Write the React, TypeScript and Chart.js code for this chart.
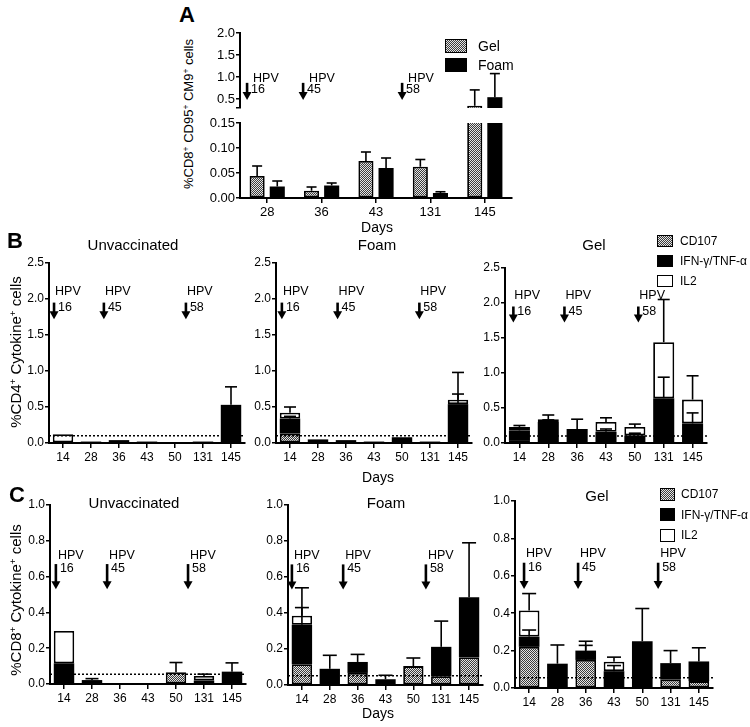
import React, { useEffect, useRef } from 'react';
import { Chart, registerables } from 'chart.js';
Chart.register(...registerables);

const SANS = "'Liberation Sans', Arial, Helvetica, sans-serif";
const NARROW = "'Liberation Sans Narrow', 'Arial Narrow', 'Liberation Sans', Arial, sans-serif";

// ---------- data ----------
const daysA = ['28', '36', '43', '131', '145'];
const gelA = [0.044, 0.0145, 0.074, 0.0625, 0.35];
const gelAErr = [0.064, 0.022, 0.092, 0.077, 0.71];
const foamA = [0.023, 0.025, 0.06, 0.01, 0.545];
const foamAErr = [0.034, 0.03, 0.08, 0.0125, 1.08];
const ticksAUpper = [0.3, 0.5, 1.0, 1.5, 2.0];
const tickLabelsAUpper = ['', '0.5', '1.0', '1.5', '2.0'];
const ticksALower = [0, 0.05, 0.1, 0.15];
const tickLabelsALower = ['0.00', '0.05', '0.10', '0.15'];

const days = ['14', '28', '36', '43', '50', '131', '145'];
const ticksB = [0, 0.5, 1.0, 1.5, 2.0, 2.5];
const tickLabelsB = ['0.0', '0.5', '1.0', '1.5', '2.0', '2.5'];
const ticksC = [0, 0.2, 0.4, 0.6, 0.8, 1.0];
const tickLabelsC = ['0.0', '0.2', '0.4', '0.6', '0.8', '1.0'];

// Panel B (CD4)
const bUnvCd107 = [0, 0, 0, 0, 0, 0, 0];
const bUnvIfn = [0, 0.02, 0.04, 0.02, 0, 0.02, 0.53];
const bUnvIl2 = [0.12, 0, 0, 0, 0, 0, 0];
const bUnvIfnErr = [null, null, null, null, null, null, 0.78];

const bFoamCd107 = [0.13, 0, 0, 0, 0, 0, 0];
const bFoamIfn = [0.21, 0.05, 0.04, 0.02, 0.08, 0.02, 0.54];
const bFoamIl2 = [0.08, 0, 0, 0, 0, 0, 0.06];
const bFoamIfnErr = [0.37, null, null, null, null, null, 0.68];
const bFoamIl2Err = [0.5, null, null, null, null, null, 0.98];

const bGelCd107 = [0.03, 0, 0, 0, 0, 0, 0];
const bGelIfn = [0.15, 0.30, 0.2, 0.16, 0.11, 0.64, 0.28];
const bGelIl2 = [0.05, 0.04, 0, 0.14, 0.12, 0.80, 0.34];
const bGelIfnErr = [0.2, 0.33, 0.34, 0.2, 0.14, 0.94, 0.43];
const bGelIl2Err = [0.25, 0.40, null, 0.36, 0.27, 2.05, 0.96];

// Panel C (CD8)
const cUnvCd107 = [0, 0, 0, 0, 0.065, 0, 0];
const cUnvIfn = [0.116, 0.022, 0, 0, 0, 0.02, 0.069];
const cUnvIl2 = [0.18, 0, 0, 0, 0, 0.025, 0];
const cUnvCd107Err = [null, null, null, null, 0.12, null, null];
const cUnvIfnErr = [null, 0.03, null, null, null, null, 0.118];
const cUnvIl2Err = [null, null, null, null, null, 0.055, null];

const cFoamCd107 = [0.115, 0, 0.067, 0, 0.105, 0.048, 0.153];
const cFoamIfn = [0.22, 0.09, 0.061, 0.032, 0, 0.164, 0.334];
const cFoamIl2 = [0.05, 0, 0, 0, 0, 0, 0];
const cFoamCd107Err = [null, null, null, null, 0.15, null, null];
const cFoamIfnErr = [0.43, 0.165, 0.17, 0.054, null, 0.355, 0.79];
const cFoamIl2Err = [0.54, null, null, null, null, null, null];

const cGelCd107 = [0.22, 0, 0.15, 0, 0, 0.045, 0.037];
const cGelIfn = [0.055, 0.13, 0.05, 0.09, 0.25, 0.088, 0.105];
const cGelIl2 = [0.14, 0, 0, 0.05, 0, 0, 0];
const cGelCd107Err = [null, null, 0.228, null, null, null, null];
const cGelIfnErr = [0.31, 0.23, 0.25, 0.12, 0.425, 0.2, 0.215];
const cGelIl2Err = [0.505, null, null, 0.165, null, null, null];

const hpvNums = ['16', '45', '58'];
const legendA = ['Gel', 'Foam'];
const legendBC = ['CD107', 'IFN-γ/TNF-α', 'IL2'];

// ---------- helpers ----------
type Kind = 'pat' | 'black' | 'white';
type Seg = { label: string; kind: Kind; data: number[]; errs?: (number | null)[] };
type Hpv = { pos: number[]; yText: number; yTop: number; yTip: number; yNum: number; size: number; textDx: number };
type Cfg = {
  area: [number, number, number, number];
  labels: string[];
  min: number; max: number;
  ticks: number[]; tickLabels: string[];
  segs: Seg[]; stacked: boolean; barPct: number; catPct: number;
  showX: boolean; fontFamily: string; fontSize: number;
  threshold?: number; capW: number; hpv?: Hpv;
};

function makePattern(ctx: CanvasRenderingContext2D) {
  const c = document.createElement('canvas');
  c.width = 2; c.height = 2;
  const g = c.getContext('2d')!;
  g.fillStyle = '#e4e4e4'; g.fillRect(0, 0, 2, 2);
  g.fillStyle = '#3c3c3c'; g.fillRect(0, 0, 1, 1); g.fillRect(1, 1, 1, 1);
  return ctx.createPattern(c, 'repeat');
}

const YW = 44, PT = 14, PR = 10;

function ChartPanel({ cfg }: { cfg: Cfg }) {
  const ref = useRef<HTMLCanvasElement>(null);
  const [l, t, r, b] = cfg.area;
  const XH = cfg.showX ? 24 : 0;
  const PB = cfg.showX ? 0 : 12;
  const w = r - l + YW + PR;
  const h = b - t + PT + XH + PB;
  useEffect(() => {
    const canvas = ref.current!;
    const ctx = canvas.getContext('2d')!;
    const pat = makePattern(ctx);
    const extras = {
      id: 'extras',
      afterDatasetsDraw(chart: any) {
        const c = chart.ctx;
        const ca = chart.chartArea;
        const ys = chart.scales.y;
        c.save();
        c.beginPath();
        c.rect(ca.left, ca.top - 1, ca.right - ca.left, ca.bottom - ca.top + 1);
        c.clip();
        if (cfg.threshold != null) {
          const py = ys.getPixelForValue(cfg.threshold);
          c.setLineDash([2, 2]);
          c.lineWidth = 1.5;
          c.strokeStyle = '#000';
          c.beginPath(); c.moveTo(ca.left, py); c.lineTo(ca.right, py); c.stroke();
          c.setLineDash([]);
        }
        cfg.segs.forEach((s, i) => {
          if (!s.errs) return;
          const meta = chart.getDatasetMeta(i);
          meta.data.forEach((el: any, j: number) => {
            const e = s.errs![j];
            if (e == null || !s.data[j]) return;
            const y0 = el.y;
            const y1 = ys.getPixelForValue(e);
            c.strokeStyle = '#000';
            c.lineWidth = 1.6;
            c.beginPath(); c.moveTo(el.x, y0); c.lineTo(el.x, y1); c.stroke();
            c.beginPath(); c.moveTo(el.x - cfg.capW / 2, y1); c.lineTo(el.x + cfg.capW / 2, y1); c.stroke();
          });
        });
        c.restore();
      },
      afterDraw(chart: any) {
        if (!cfg.hpv) return;
        const hv = cfg.hpv;
        const c = chart.ctx;
        const xs = chart.scales.x;
        const ys = chart.scales.y;
        c.save();
        c.fillStyle = '#000';
        c.strokeStyle = '#000';
        c.font = `${hv.size}px ${SANS}`;
        c.textBaseline = 'middle';
        c.textAlign = 'left';
        hv.pos.forEach((p, k) => {
          const x = xs.getPixelForValue(p);
          const yT = ys.getPixelForValue(hv.yText);
          const yTop = ys.getPixelForValue(hv.yTop);
          const yTip = ys.getPixelForValue(hv.yTip);
          const yN = ys.getPixelForValue(hv.yNum);
          c.fillText('HPV', x + hv.textDx, yT);
          c.fillText(hpvNums[k], x + 4, yN);
          c.lineWidth = 2.6;
          c.beginPath(); c.moveTo(x, yTop); c.lineTo(x, yTip - 6); c.stroke();
          c.beginPath();
          c.moveTo(x - 4.5, yTip - 8); c.lineTo(x + 4.5, yTip - 8); c.lineTo(x, yTip); c.closePath();
          c.fill();
        });
        c.restore();
      },
    };
    const grid = {
      display: true, drawOnChartArea: false, drawTicks: true, tickLength: 5,
      color: '#000', tickColor: '#000', tickWidth: 1.5, lineWidth: 1.5,
    };
    const chart = new Chart(ctx, {
      type: 'bar',
      data: {
        labels: cfg.labels,
        datasets: cfg.segs.map((s) => ({
          label: s.label,
          data: s.data.map((v) => (v === 0 ? null : v)),
          backgroundColor: s.kind === 'pat' ? pat : s.kind === 'black' ? '#000' : '#fff',
          borderColor: '#000',
          borderWidth: s.kind === 'black' ? 0 : 1.8,
          borderSkipped: false,
          barPercentage: cfg.barPct,
          categoryPercentage: cfg.catPct,
          clip: 0,
        })) as any,
      },
      options: {
        responsive: false,
        animation: false,
        events: [],
        layout: { padding: { top: PT, right: PR, left: 0, bottom: PB } },
        plugins: { legend: { display: false }, tooltip: { enabled: false } },
        scales: {
          x: {
            type: 'category',
            stacked: cfg.stacked,
            offset: true,
            display: cfg.showX,
            grid: { ...grid, offset: false },
            border: { display: true, color: '#000', width: 2 },
            ticks: {
              color: '#000', padding: 2, maxRotation: 0, autoSkip: false,
              font: { family: cfg.fontFamily, size: cfg.fontSize },
            },
            afterFit: (s: any) => { s.height = XH; },
          },
          y: {
            type: 'linear',
            stacked: cfg.stacked,
            min: cfg.min,
            max: cfg.max,
            grid: { ...grid, tickLength: 4 },
            border: { display: true, color: '#000', width: 2 },
            afterBuildTicks: (s: any) => { s.ticks = cfg.ticks.map((v) => ({ value: v })); },
            ticks: {
              color: '#000', padding: 1, autoSkip: false,
              font: { family: cfg.fontFamily, size: cfg.fontSize },
              callback: (_v: any, i: number) => cfg.tickLabels[i],
            },
            afterFit: (s: any) => { s.width = YW; },
          },
        },
      } as any,
      plugins: [extras],
    });
    return () => chart.destroy();
  }, []);
  return (
    <canvas
      ref={ref}
      width={w}
      height={h}
      style={{ position: 'absolute', left: l - YW, top: t - PT, width: w, height: h }}
    />
  );
}

const stackSegs = (cd: number[], ifn: number[], il2: number[], cdE?: any[], ifnE?: any[], il2E?: any[]): Seg[] => [
  { label: legendBC[0], kind: 'pat', data: cd, errs: cdE },
  { label: legendBC[1], kind: 'black', data: ifn, errs: ifnE },
  { label: legendBC[2], kind: 'white', data: il2, errs: il2E },
];

const hpvA = { yText: 0.96, yTop: 0.87, yTip: 0.48, yNum: 0.72, size: 12.5, textDx: 6 };
const hpvB = { yText: 2.1, yTop: 1.95, yTip: 1.72, yNum: 1.88, size: 12.5, textDx: 1 };
const hpvC = { yText: 0.72, yTop: 0.67, yTip: 0.53, yNum: 0.645, size: 12.5, textDx: 2 };

const bcCommon = { labels: days, stacked: true, barPct: 0.73, catPct: 1, showX: true, fontFamily: NARROW, fontSize: 12 };

const panels: Cfg[] = [
  {
    area: [240, 33, 512, 108], labels: daysA, min: 0.3, max: 2.0, ticks: ticksAUpper, tickLabels: tickLabelsAUpper,
    segs: [
      { label: legendA[0], kind: 'pat', data: gelA, errs: gelAErr },
      { label: legendA[1], kind: 'black', data: foamA, errs: foamAErr },
    ],
    stacked: false, barPct: 0.75, catPct: 0.74, showX: false, fontFamily: SANS, fontSize: 13, capW: 10,
    hpv: { pos: [-0.37, 0.66, 2.48], ...hpvA },
  },
  {
    area: [240, 123, 512, 198], labels: daysA, min: 0, max: 0.15, ticks: ticksALower, tickLabels: tickLabelsALower,
    segs: [
      { label: legendA[0], kind: 'pat', data: gelA, errs: gelAErr },
      { label: legendA[1], kind: 'black', data: foamA, errs: foamAErr },
    ],
    stacked: false, barPct: 0.75, catPct: 0.74, showX: true, fontFamily: SANS, fontSize: 13, capW: 10,
  },
  {
    ...bcCommon, area: [49, 263, 245, 443], min: 0, max: 2.5, ticks: ticksB, tickLabels: tickLabelsB,
    segs: stackSegs(bUnvCd107, bUnvIfn, bUnvIl2, undefined, bUnvIfnErr, undefined),
    threshold: 0.1, capW: 12, hpv: { pos: [-0.32, 1.46, 4.39], ...hpvB },
  },
  {
    ...bcCommon, area: [276, 263, 472, 443], min: 0, max: 2.5, ticks: ticksB, tickLabels: tickLabelsB,
    segs: stackSegs(bFoamCd107, bFoamIfn, bFoamIl2, undefined, bFoamIfnErr, bFoamIl2Err),
    threshold: 0.1, capW: 12, hpv: { pos: [-0.29, 1.7, 4.62], ...hpvB },
  },
  {
    ...bcCommon, area: [505, 268, 707, 443], min: 0, max: 2.5, ticks: ticksB, tickLabels: tickLabelsB,
    segs: stackSegs(bGelCd107, bGelIfn, bGelIl2, undefined, bGelIfnErr, bGelIl2Err),
    threshold: 0.1, capW: 12, hpv: { pos: [-0.21, 1.56, 4.12], ...hpvB },
  },
  {
    ...bcCommon, area: [50, 505, 246, 684], min: 0, max: 1.0, ticks: ticksC, tickLabels: tickLabelsC,
    segs: stackSegs(cUnvCd107, cUnvIfn, cUnvIl2, cUnvCd107Err, cUnvIfnErr, cUnvIl2Err),
    threshold: 0.055, capW: 13, hpv: { pos: [-0.29, 1.54, 4.43], ...hpvC },
  },
  {
    ...bcCommon, area: [288, 505, 483, 685], min: 0, max: 1.0, ticks: ticksC, tickLabels: tickLabelsC,
    segs: stackSegs(cFoamCd107, cFoamIfn, cFoamIl2, cFoamCd107Err, cFoamIfnErr, cFoamIl2Err),
    threshold: 0.052, capW: 14, hpv: { pos: [-0.36, 1.48, 4.45], ...hpvC },
  },
  {
    ...bcCommon, area: [515, 501, 713, 688], min: 0, max: 1.0, ticks: ticksC, tickLabels: tickLabelsC,
    segs: stackSegs(cGelCd107, cGelIfn, cGelIl2, cGelCd107Err, cGelIfnErr, cGelIl2Err),
    threshold: 0.055, capW: 14, hpv: { pos: [-0.18, 1.73, 4.56], ...hpvC },
  },
];

const PAT_CSS = 'repeating-conic-gradient(#3c3c3c 0% 25%, #e4e4e4 0% 50%) 0 0 / 2px 2px';

function Txt({ x, y, size, children, bold, family, rotate }: any) {
  return (
    <div
      style={{
        position: 'absolute', left: x, top: y,
        transform: `translate(-50%, -50%)${rotate ? ' rotate(-90deg)' : ''}`,
        fontSize: size, fontWeight: bold ? 'bold' : 'normal', fontFamily: family || SANS,
        whiteSpace: 'nowrap', lineHeight: 1,
      }}
    >
      {children}
    </div>
  );
}

function LegendBox({ x, y, w, h, kind, label, tx, size, family }: any) {
  const bg = kind === 'pat' ? PAT_CSS : kind === 'black' ? '#000' : '#fff';
  return (
    <>
      <div style={{ position: 'absolute', left: x, top: y - h / 2, width: w, height: h, background: bg, border: '1.5px solid #000', boxSizing: 'border-box' }} />
      <div style={{ position: 'absolute', left: tx, top: y, transform: 'translateY(-50%)', fontSize: size, fontFamily: family, lineHeight: 1, whiteSpace: 'nowrap' }}>{label}</div>
    </>
  );
}

const sup = { fontSize: '0.65em', verticalAlign: '0.45em' } as const;

export default function App() {
  const kinds: Kind[] = ['pat', 'black', 'white'];
  return (
    <div style={{ position: 'absolute', left: 0, top: 0, width: 750, height: 727, overflow: 'hidden', background: '#fff', color: '#000', fontFamily: SANS }}>
      {panels.map((p, i) => <ChartPanel key={i} cfg={p} />)}

      <Txt x={187} y={15} size={22} bold>A</Txt>
      <Txt x={15} y={241} size={22} bold>B</Txt>
      <Txt x={17} y={495} size={22} bold>C</Txt>

      <Txt x={188} y={114} size={13} rotate>%CD8<span style={sup}>+</span> CD95<span style={sup}>+</span> CM9<span style={sup}>+</span> cells</Txt>
      <Txt x={15} y={352} size={15} rotate>%CD4<span style={sup}>+</span> Cytokine<span style={sup}>+</span> cells</Txt>
      <Txt x={15} y={600} size={15} rotate>%CD8<span style={sup}>+</span> Cytokine<span style={sup}>+</span> cells</Txt>

      <Txt x={377} y={227} size={14}>Days</Txt>
      <Txt x={378} y={477} size={14}>Days</Txt>
      <Txt x={378} y={713} size={14}>Days</Txt>

      <Txt x={133} y={244} size={15}>Unvaccinated</Txt>
      <Txt x={377} y={244} size={15}>Foam</Txt>
      <Txt x={594} y={244} size={15}>Gel</Txt>
      <Txt x={134} y={502} size={15}>Unvaccinated</Txt>
      <Txt x={386} y={502} size={15}>Foam</Txt>
      <Txt x={597} y={495} size={15}>Gel</Txt>

      {legendA.map((lab, i) => (
        <LegendBox key={lab} x={445} y={46 + i * 19} w={22} h={14} kind={i === 0 ? 'pat' : 'black'} label={lab} tx={478} size={14} family={SANS} />
      ))}
      {legendBC.map((lab, i) => (
        <LegendBox key={'b' + lab} x={657} y={241 + i * 20} w={16} h={12} kind={kinds[i]} label={lab} tx={680} size={12} family={NARROW} />
      ))}
      {legendBC.map((lab, i) => (
        <LegendBox key={'c' + lab} x={660} y={494 + i * 20.5} w={15} h={13} kind={kinds[i]} label={lab} tx={681} size={12} family={NARROW} />
      ))}
    </div>
  );
}
